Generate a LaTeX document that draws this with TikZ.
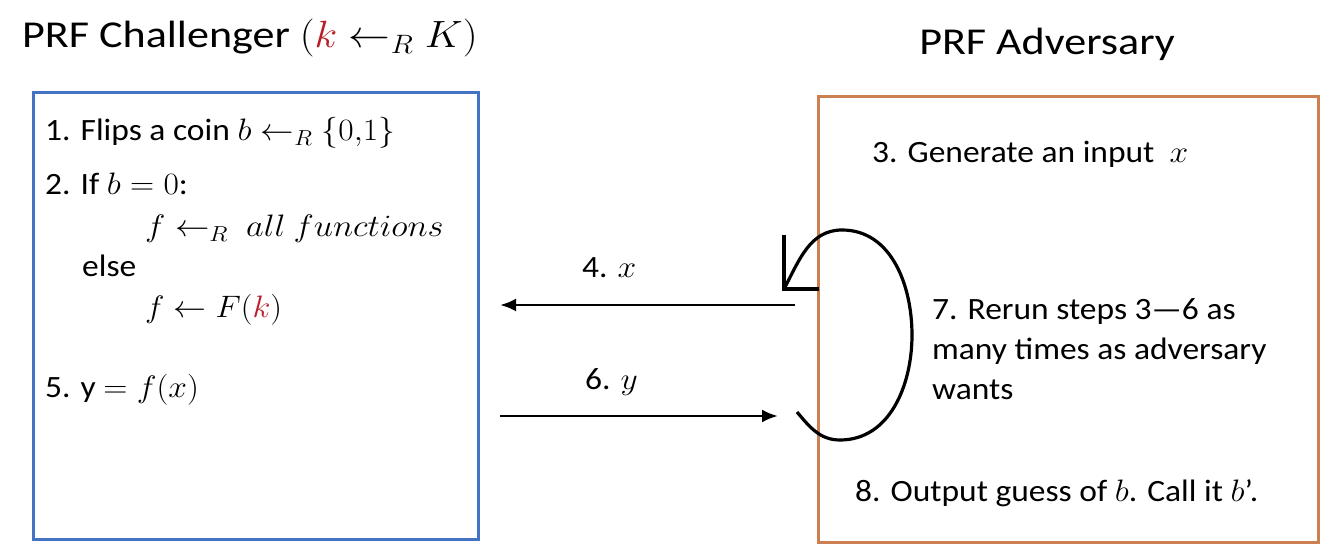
\RequirePackage{fix-cm}
\documentclass[tikz,border=0pt]{standalone}
\usepackage{graphicx}
\usepackage{fontspec}
\setmainfont{Carlito}[FakeStretch=1.08]
\newfontfamily\ttlfont{Carlito}[FakeStretch=1.16]
\usetikzlibrary{arrows.meta}
\definecolor{boxblue}{RGB}{68,114,196}
\definecolor{boxorange}{RGB}{204,128,82}
\definecolor{keyred}{RGB}{185,30,40}
\newcommand\mth[2][1.08]{\scalebox{#1}[1]{$#2$}}
\begin{document}
\begin{tikzpicture}[x=1pt,y=1pt,
  txt/.style={inner sep=0pt,anchor=base west,font=\fontsize{31}{37}\selectfont},
  ttl/.style={inner sep=0pt,anchor=base,font=\fontsize{38}{46}\selectfont\ttlfont},
  panel/.style={line width=3pt},
  msg/.style={line width=2.8pt,-{Latex[length=16pt,width=13pt]}},
  loopline/.style={line width=3.2pt,line join=miter}]
\fill[white] (0,0) rectangle (1334,557);
\useasboundingbox (0,0) rectangle (1334,557);
% panels
\draw[panel,boxblue] (33,17) rectangle (478,464);
\draw[panel,boxorange] (818,14) rectangle (1318,460);
% titles
\node[ttl,anchor=base west] (tl) at (22,509) {PRF Challenger \mth[1.1]{(\textcolor{keyred}{k}\leftarrow_R K)}};
\node[ttl] (tr) at (1047,502) {PRF Adversary};
% challenger text
\node[txt] (c1) at (45,416) {1. Flips a coin \mth{b\leftarrow_R \{0{,}1\}}};
\node[txt] (c2) at (45,362) {2. If \mth{b=0}:};
\node[txt] (c3) at (145,320) {\mth[1.11]{f\leftarrow_R\ all\ functions}};
\node[txt] (c4) at (82,280) {else};
\node[txt] (c5) at (145,239) {\mth[1.06]{f\leftarrow F(\textcolor{keyred}{k})}};
\node[txt] (c6) at (45,159) {5. y \mth{=f(x)}};
% adversary text
\node[txt] (a3) at (872,394) {3. Generate an input\ \ \mth{x}};
\node[txt] (a7) at (932,237) {7. Rerun steps 3—6 as};
\node[txt] (a7b) at (932,197) {many times as adversary};
\node[txt] (a7c) at (932,157) {wants};
\node[txt] (a8) at (855,55) {8. Output guess of \mth{b}. Call it \mth{b}’.};
% messages
\coordinate (m4s) at (795,252);
\coordinate (m4e) at (500,252);
\coordinate (m6s) at (500,141);
\coordinate (m6e) at (778,141);
\draw[msg] (m4s) -- (m4e);
\draw[msg] (m6s) -- (m6e);
\node[txt] (l4) at (582,279) {4. \mth{x}};
\node[txt] (l6) at (585,167) {6. \mth{y}};
% loop
\coordinate (S) at (797,145);
\coordinate (B) at (840,117);
\coordinate (R) at (912,222);
\coordinate (T) at (842,327);
\coordinate (E) at (784,268);
\draw[line width=3.2pt] (S) to[out=-50,in=180] (B) to[out=0,in=-90] (R) to[out=90,in=0] (T) to[out=180,in=62] (E);
\draw[loopline] ([yshift=54pt]E) -- (E) -- ([xshift=35pt]E);
\end{tikzpicture}
\end{document}
